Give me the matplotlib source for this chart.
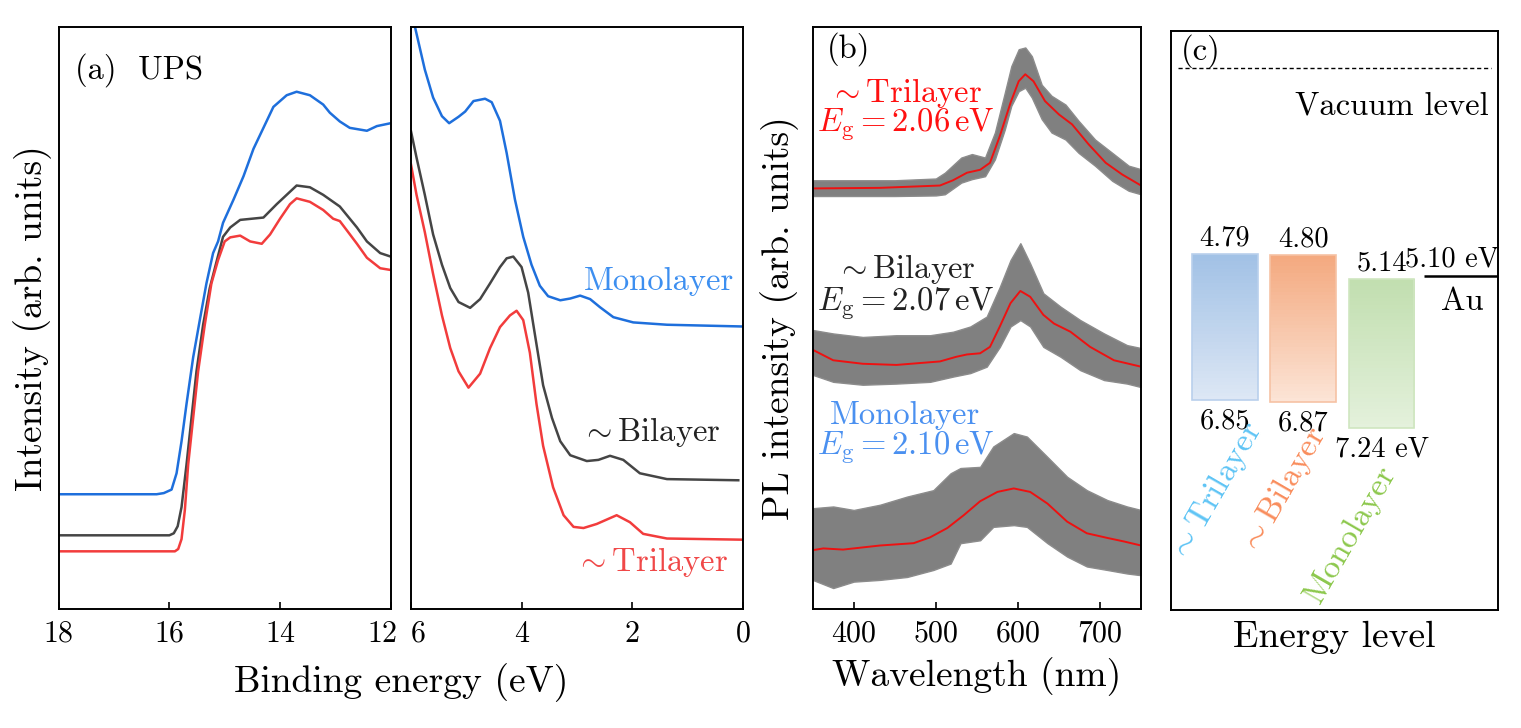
import numpy as np
import matplotlib
matplotlib.use("Agg")
import matplotlib.pyplot as plt
import matplotlib.transforms as mtransforms
from matplotlib.colors import to_rgb
from matplotlib.patches import Rectangle

plt.rcParams['font.family'] = 'serif'
plt.rcParams['font.serif'] = ['cmr10']
plt.rcParams['mathtext.fontset'] = 'cm'
plt.rcParams['axes.formatter.use_mathtext'] = True
plt.rcParams['axes.unicode_minus'] = False

# ------------------------------------------------------------
# (a) UPS - alta energia de ligacao (18 -> 12 eV)
# ------------------------------------------------------------
e_mono_hi = [18.0, 16.23, 16.10, 15.96, 15.87, 15.78, 15.69, 15.57, 15.45, 15.33, 15.21, 15.12,
             15.03, 14.84, 14.66, 14.48, 14.30, 14.12, 13.88, 13.70, 13.46, 13.22, 13.10, 12.92,
             12.74, 12.43, 12.25, 12.0]
i_mono_hi = [19.7, 19.7, 19.9, 20.5, 23.3, 28.8, 35.2, 43.2, 49.6, 55.9, 61.1, 63.1,
             66.3, 70.3, 74.3, 79.0, 82.6, 86.2, 88.2, 88.8, 88.2, 86.6, 85.2, 83.7,
             82.6, 82.1, 82.9, 83.4]

e_bi_hi = [18.0, 16.0, 15.92, 15.85, 15.78, 15.69, 15.60, 15.51, 15.39, 15.27, 15.14, 15.03,
           14.90, 14.72, 14.30, 14.06, 13.88, 13.70, 13.46, 13.22, 12.92, 12.61, 12.43, 12.19, 12.0]
i_bi_hi = [12.65, 12.65, 13.0, 14.2, 17.5, 24.8, 32.8, 40.8, 48.8, 55.1, 59.9, 63.9,
           65.5, 66.8, 67.2, 69.5, 71.1, 72.7, 72.4, 71.1, 69.1, 65.5, 63.1, 61.1, 60.5]

e_tri_hi = [18.0, 15.90, 15.84, 15.78, 15.72, 15.66, 15.57, 15.48, 15.36, 15.24, 15.12, 15.0,
            14.90, 14.72, 14.54, 14.33, 14.18, 14.0, 13.82, 13.70, 13.46, 13.22, 13.04, 12.92,
            12.80, 12.61, 12.43, 12.19, 12.0]
i_tri_hi = [9.9, 9.9, 10.3, 12.0, 17.0, 24.8, 32.8, 40.8, 48.8, 55.9, 59.9, 63.1,
            63.8, 64.1, 63.1, 62.7, 64.3, 67.0, 69.5, 70.5, 69.9, 68.5, 67.0, 66.6,
            65.1, 62.7, 60.3, 58.5, 58.2]

# ------------------------------------------------------------
# (a) UPS - baixa energia de ligacao (6 -> 0 eV)
# ------------------------------------------------------------
e_mono_lo = [5.93, 5.75, 5.60, 5.44, 5.31, 5.14, 5.02, 4.87, 4.66, 4.54, 4.39, 4.27, 4.12,
             3.97, 3.82, 3.67, 3.52, 3.30, 3.12, 2.94, 2.76, 2.58, 2.34, 1.98, 1.37, 0.0]
i_mono_lo = [100.0, 92.6, 87.8, 84.6, 83.4, 84.5, 85.4, 87.2, 87.6, 87.0, 83.8, 78.3, 70.3,
             63.9, 59.1, 55.5, 53.7, 53.0, 53.3, 53.8, 53.2, 51.8, 50.1, 49.2, 48.8, 48.5]

e_bi_lo = [6.0, 5.90, 5.75, 5.60, 5.44, 5.29, 5.14, 4.93, 4.75, 4.57, 4.39, 4.27, 4.15, 4.0,
           3.88, 3.76, 3.61, 3.45, 3.30, 3.12, 2.82, 2.61, 2.40, 2.16, 1.86, 1.37, 0.08]
i_bi_lo = [82.0, 77.5, 71.1, 64.3, 59.1, 55.1, 52.7, 51.7, 53.2, 55.9, 58.7, 60.2, 60.5, 58.7,
           54.3, 47.2, 38.4, 32.8, 28.8, 26.4, 25.4, 25.6, 26.3, 25.6, 23.3, 22.3, 22.1]

e_tri_lo = [6.0, 5.90, 5.75, 5.60, 5.44, 5.29, 5.14, 4.96, 4.75, 4.57, 4.39, 4.21, 4.09, 3.97,
            3.85, 3.73, 3.61, 3.43, 3.24, 3.06, 2.88, 2.64, 2.28, 2.04, 1.80, 1.37, 0.0]
i_tri_lo = [76.3, 71.1, 64.7, 57.5, 50.4, 44.8, 40.8, 38.0, 40.4, 44.8, 48.4, 50.4, 51.2, 49.6,
            44.0, 35.2, 28.0, 20.9, 16.1, 14.1, 13.9, 14.6, 16.1, 14.9, 12.9, 12.1, 11.9]

# ------------------------------------------------------------
# (b) PL - ajuste (vermelho) e envelope dos dados medidos (cinza)
# ------------------------------------------------------------
wl_tri = [350, 432, 505, 521, 538, 554, 566, 578, 591, 601, 609, 619, 633, 650, 666, 686,
          707, 727, 750]
fit_tri = [72.2, 72.3, 72.7, 73.6, 74.9, 75.4, 76.6, 81.2, 86.9, 90.6, 91.8, 90.6, 87.2,
           84.9, 83.2, 79.8, 76.6, 74.6, 72.7]
wl_tri_env = [350, 450, 500, 511, 531, 544, 560, 572, 584, 592, 601, 609, 617, 629, 641,
              658, 674, 694, 715, 735, 750]
up_tri = [73.6, 73.6, 73.9, 74.9, 77.5, 78.1, 77.5, 81.8, 88.6, 93.2, 96.1, 96.4, 94.9,
          90.0, 88.1, 86.6, 83.8, 80.6, 78.3, 76.1, 75.5]
lo_tri = [70.9, 70.9, 71.0, 71.2, 73.2, 73.8, 74.3, 77.2, 82.3, 86.4, 88.9, 89.5, 87.8,
          84.1, 81.8, 80.6, 78.3, 76.1, 73.5, 71.8, 71.2]

wl_bi = [350, 375, 411, 452, 505, 525, 538, 554, 566, 578, 591, 603, 615, 631, 644, 664,
         688, 717, 750]
fit_bi = [44.5, 42.7, 42.1, 41.9, 42.5, 43.3, 43.7, 43.9, 45.0, 48.5, 52.5, 54.6, 53.6,
          50.5, 49.0, 47.6, 45.0, 42.7, 41.6]
wl_bi_env = [350, 375, 411, 452, 493, 521, 542, 562, 578, 591, 603, 615, 631, 652, 676,
             705, 733, 750]
up_bi = [47.9, 47.3, 46.7, 47.0, 47.0, 47.6, 48.5, 50.2, 55.3, 59.9, 62.8, 59.3, 54.2,
         51.9, 49.6, 47.3, 45.3, 44.8]
lo_bi = [40.2, 39.0, 38.5, 38.7, 39.0, 39.9, 40.5, 41.6, 45.0, 48.5, 49.6, 48.5, 45.0,
         43.3, 41.0, 39.3, 38.7, 38.1]

wl_mono = [350, 363, 387, 432, 473, 493, 514, 534, 554, 575, 595, 615, 636, 660, 684, 709,
           729, 750]
fit_mono = [10.1, 10.4, 10.2, 10.9, 11.3, 12.3, 13.9, 16.1, 18.5, 20.1, 20.7, 20.1, 18.1,
            15.0, 13.0, 12.2, 11.6, 10.9]
wl_mono_env = [350, 375, 400, 432, 465, 497, 518, 530, 554, 570, 595, 611, 636, 660, 684,
               709, 733, 750]
up_mono = [17.3, 17.6, 17.0, 17.9, 19.3, 20.4, 23.3, 24.2, 24.4, 27.9, 30.2, 29.6, 26.1,
           22.7, 20.4, 18.7, 17.6, 17.0]
lo_mono = [5.0, 3.6, 4.7, 5.0, 5.5, 6.7, 7.8, 11.3, 11.8, 14.1, 14.4, 14.1, 11.3, 9.0,
           7.3, 6.7, 6.1, 5.8]

# ------------------------------------------------------------
# (c) niveis de energia (eV abaixo do vacuo)
# ------------------------------------------------------------
camadas = ['$\\sim$Trilayer', '$\\sim$Bilayer', 'Monolayer']
topo = [4.79, 4.80, 5.14]
base = [6.85, 6.87, 7.24]
rot_topo = ['4.79', '4.80', '5.14']
rot_base = ['6.85', '6.87', '7.24 eV']
e_au = 5.10

# ------------------------------------------------------------
# figura
# ------------------------------------------------------------
W, H = 1521, 728
fig = plt.figure(figsize=(W / 100, H / 100), dpi=100)

def caixa(l, r, t, b):
    return [l / W, 1 - b / H, (r - l) / W, (b - t) / H]

ax1 = fig.add_axes(caixa(58.7, 390.7, 26.5, 609))
ax2 = fig.add_axes(caixa(411, 742.7, 26.5, 609))
ax3 = fig.add_axes(caixa(812.7, 1141, 26.5, 609))
ax4 = fig.add_axes(caixa(1171, 1498, 31, 610))

c_azul, c_cinza, c_verm = '#1e6fdc', '#454545', '#f23c3c'
lw = 1.8
fs_tick, fs_lab, fs_txt = 21.5, 27, 23.5

for ax in (ax1, ax2, ax3, ax4):
    for s in ax.spines.values():
        s.set_linewidth(1.4)
    ax.tick_params(axis='x', direction='in', length=5, width=1.2, labelsize=fs_tick, pad=8)
    ax.set_yticks([])

# painel (a) esquerdo
ax1.plot(e_mono_hi, i_mono_hi, color=c_azul, lw=lw)
ax1.plot(e_bi_hi, i_bi_hi, color=c_cinza, lw=lw)
ax1.plot(e_tri_hi, i_tri_hi, color=c_verm, lw=lw)
ax1.set_xlim(18, 12)
ax1.set_ylim(0, 100)
ax1.set_xticks([18, 16, 14, 12])
ax1.set_ylabel('Intensity (arb. units)', fontsize=fs_lab, labelpad=5)
ax1.text(0.05, 0.955, '(a)  UPS', transform=ax1.transAxes, fontsize=fs_txt, va='top')

# painel (a) direito
ax2.plot(e_mono_lo, i_mono_lo, color=c_azul, lw=lw)
ax2.plot(e_bi_lo, i_bi_lo, color=c_cinza, lw=lw)
ax2.plot(e_tri_lo, i_tri_lo, color=c_verm, lw=lw)
ax2.set_xlim(6, 0)
ax2.set_ylim(0, 100)
ax2.set_xticks([6, 4, 2, 0])
ax2.text(0.16, 56.3, 'Monolayer', color='#3d8ff0', fontsize=fs_txt, ha='right', va='center')
ax2.text(0.40, 30.4, '$\\sim$Bilayer', color='#222222', fontsize=fs_txt, ha='right', va='center')
ax2.text(0.26, 8.1, '$\\sim$Trilayer', color='#f04848', fontsize=fs_txt, ha='right', va='center')
fig.text((58.7 + 742.7) / 2 / W, 1 - 683 / H, 'Binding energy (eV)', fontsize=fs_lab,
         ha='center', va='center')

# afastar os rotulos "12" e "6" que ficam colados
desl = [(ax1.xaxis.get_major_ticks()[-1], -8), (ax2.xaxis.get_major_ticks()[0], 7)]
for tk, dx in desl:
    tk.label1.set_transform(tk.label1.get_transform() +
                            mtransforms.ScaledTranslation(dx / 100, 0, fig.dpi_scale_trans))

# painel (b)
c_ruido = '#808080'
for wl_env, up, lo, wl, fit in [(wl_tri_env, up_tri, lo_tri, wl_tri, fit_tri),
                                (wl_bi_env, up_bi, lo_bi, wl_bi, fit_bi),
                                (wl_mono_env, up_mono, lo_mono, wl_mono, fit_mono)]:
    ax3.fill_between(wl_env, lo, up, color=c_ruido, lw=1.0, edgecolor='#8c8c8c')
    ax3.plot(wl, fit, color='#ee1111', lw=1.4)
ax3.set_xlim(350, 750)
ax3.set_ylim(0, 100)
ax3.set_xticks([400, 500, 600, 700])
ax3.set_xlabel('Wavelength (nm)', fontsize=fs_lab, labelpad=7)
ax3.set_ylabel('PL intensity (arb. units)', fontsize=fs_lab, labelpad=10)
ax3.text(367, 96.1, '(b)', fontsize=fs_txt, va='center')
x_rot = 463
ax3.text(x_rot, 88.6, '$\\sim$Trilayer', color='#ff1010', fontsize=fs_txt, ha='center', va='center')
ax3.text(x_rot, 83.1, '$E_{\\rm g} = 2.06\\,{\\rm eV}$', color='#ff1010', fontsize=fs_txt,
         ha='center', va='center')
ax3.text(x_rot, 58.4, '$\\sim$Bilayer', color='#222222', fontsize=fs_txt, ha='center', va='center')
ax3.text(x_rot, 52.4, '$E_{\\rm g} = 2.07\\,{\\rm eV}$', color='#222222', fontsize=fs_txt,
         ha='center', va='center')
ax3.text(x_rot, 33.3, 'Monolayer', color='#4a90f0', fontsize=fs_txt, ha='center', va='center')
ax3.text(x_rot, 27.6, '$E_{\\rm g} = 2.10\\,{\\rm eV}$', color='#4a90f0', fontsize=fs_txt,
         ha='center', va='center')

# painel (c)
cores_topo = ['#a2c2e6', '#f4aa80', '#c2dfb0']
cores_base = ['#dde7f5', '#fce4d6', '#e4f1dc']
cores_borda = ['#b9d0ec', '#f6c2a4', '#cfe6c0']
cores_nome = ['#5ec4f5', '#f98d5c', '#8dc84d']
larg = 0.84
fs_num = 20.5
for i in range(len(camadas)):
    c0 = np.array(to_rgb(cores_topo[i]))
    c1 = np.array(to_rgb(cores_base[i]))
    f = np.linspace(0, 1, 40)[:, None]
    img = (c0 * (1 - f) + c1 * f)[:, None, :]
    ax4.imshow(img, extent=(i - larg / 2, i + larg / 2, base[i], topo[i]), origin='upper',
               aspect='auto', interpolation='nearest', zorder=1)
    ax4.add_patch(Rectangle((i - larg / 2, topo[i]), larg, base[i] - topo[i], fill=False,
                            edgecolor=cores_borda[i], lw=1.2, zorder=2))
    ax4.annotate(rot_topo[i], (i, topo[i]), xytext=(0, 6), textcoords='offset points',
                 ha='center', va='baseline', fontsize=fs_num)
    ax4.annotate(rot_base[i], (i, base[i]), xytext=(0, -6), textcoords='offset points',
                 ha='center', va='top', fontsize=fs_num)
pos_nome = [(-0.12, 8.15), (0.74, 8.13), (1.61, 8.74)]
for i, (xn, yn) in enumerate(pos_nome):
    ax4.text(xn, yn, camadas[i], color=cores_nome[i], fontsize=24, rotation=60,
             ha='center', va='center', rotation_mode='anchor')

ax4.hlines(e_au, 2.54, 3.6, color='black', lw=1.8)
ax4.annotate('5.10 eV', (2.9, e_au), xytext=(0, 7), textcoords='offset points',
             ha='center', va='baseline', fontsize=fs_num)
ax4.annotate('Au', (3.03, e_au), xytext=(0, -8), textcoords='offset points',
             ha='center', va='top', fontsize=fs_txt)

ax4.axhline(2.16, xmin=0.02, xmax=0.98, color='black', lw=1.0, ls=(0, (3, 2)))
ax4.text(0.97, 0.87, 'Vacuum level', transform=ax4.transAxes, fontsize=fs_txt,
         ha='right', va='center')
ax4.text(0.03, 0.965, '(c)', transform=ax4.transAxes, fontsize=fs_txt, va='center')
ax4.set_xlim(-0.69, 3.487)
ax4.set_ylim(9.814, 1.636)
ax4.set_xticks([])
ax4.set_xlabel('Energy level', fontsize=fs_lab, labelpad=8)

fig.savefig('out.png', dpi=100)
